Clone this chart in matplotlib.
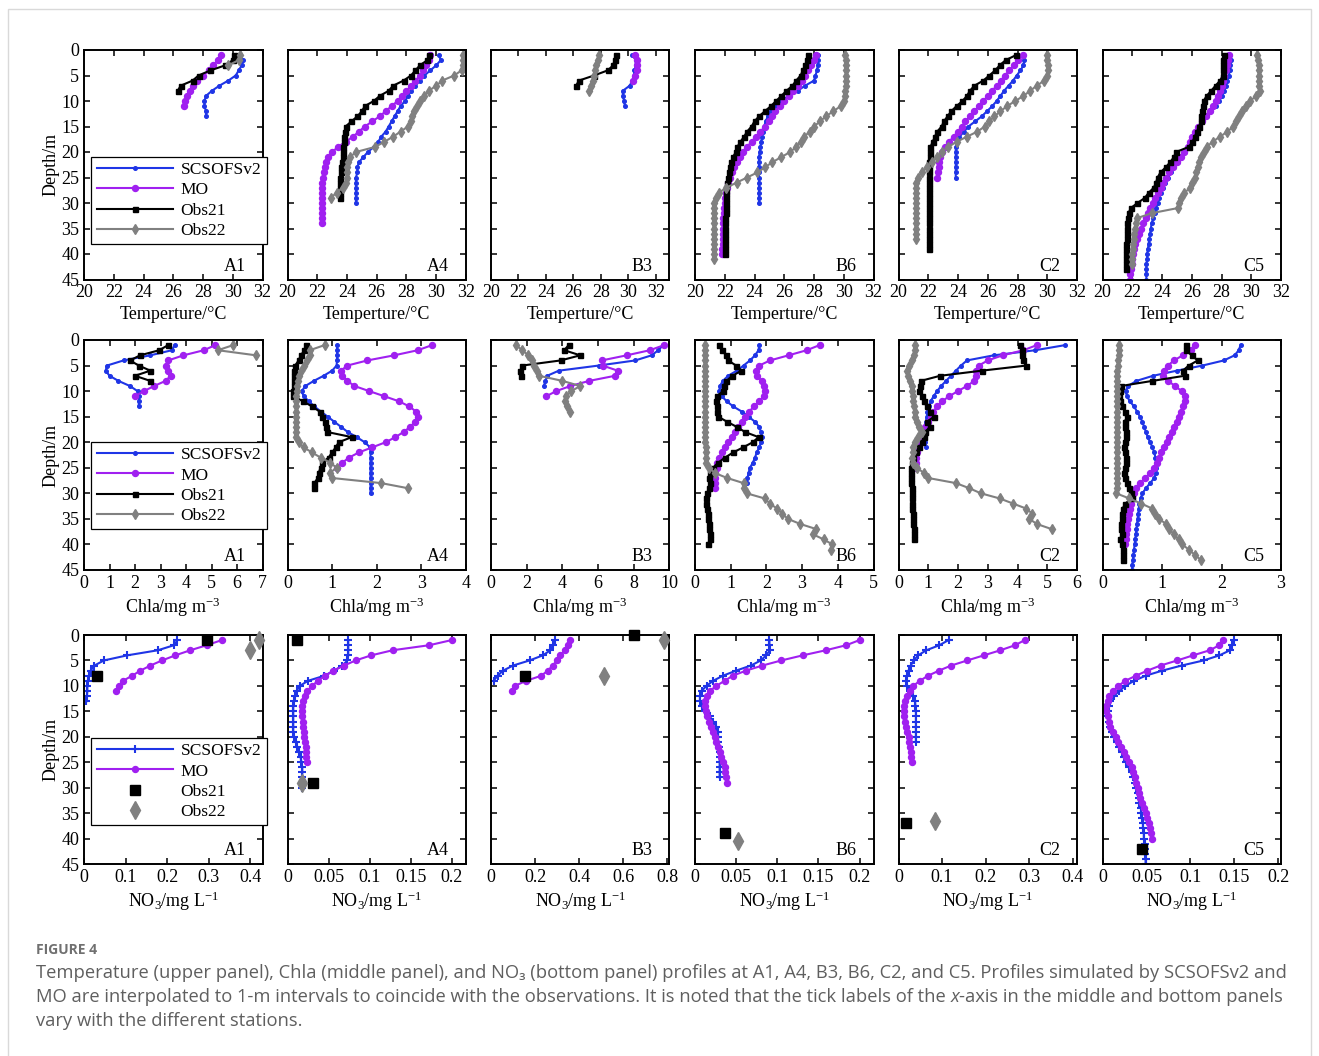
import numpy as np
import matplotlib
matplotlib.use("Agg")
import matplotlib.pyplot as plt
from matplotlib.lines import Line2D
from matplotlib.patches import Rectangle
from matplotlib.ticker import FuncFormatter

# ------------------------------------------------------------------ data
STATIONS = ["A1", "A4", "B3", "B6", "C2", "C5"]
DEPTH_TICKS = [0, 5, 10, 15, 20, 25, 30, 35, 40, 45]
# profile values at 1-m intervals starting at 1 m depth

# ---- Temperature (deg C)
T_SCS = {
    "A1": [30.5, 30.7, 30.6, 30.4, 30.2, 29.7, 29.1, 28.6, 28.2, 28.1, 28.1, 28.2, 28.2],
    "A4": [30.2, 30.3, 30.0, 29.6, 29.2, 28.9, 28.6, 28.3, 28.1, 27.9, 27.6, 27.4, 27.2, 27.0, 26.8,
           26.6, 26.3, 26.1, 25.8, 25.4, 25.1, 24.8, 24.7, 24.7, 24.6, 24.6, 24.6, 24.6, 24.6, 24.6],
    "B3": [30.3, 30.55, 30.55, 30.45, 30.4, 30.3, 30.1, 29.6, 29.6, 29.7, 29.75],
    "B6": [28.25, 28.25, 28.25, 28.2, 28.1, 28.0, 27.4, 26.9, 26.3, 25.8, 25.4, 25.1, 24.9, 24.75, 24.65,
           24.55, 24.5, 24.45, 24.4, 24.35, 24.3, 24.3, 24.3, 24.3, 24.3, 24.3, 24.3, 24.3, 24.3, 24.3],
    "C2": [28.4, 28.45, 28.4, 28.2, 27.95, 27.7, 27.4, 27.1, 26.85, 26.6, 26.3, 25.95, 25.6, 25.15, 24.7,
           24.4, 24.1, 23.95, 23.85, 23.85, 23.85, 23.85, 23.85, 23.85, 23.85],
    "C5": [28.6, 28.65, 28.6, 28.55, 28.5, 28.4, 28.3, 28.2, 28.05, 27.85, 27.6, 27.3, 27.0, 26.75, 26.5,
           26.3, 26.1, 25.95, 25.8, 25.55, 25.3, 25.05, 24.8, 24.6, 24.4, 24.2, 24.05, 23.9, 23.8, 23.7,
           23.6, 23.5, 23.4, 23.3, 23.25, 23.2, 23.15, 23.1, 23.05, 23.0, 23.0, 22.95, 22.95, 22.95, 22.95],
}
T_MO = {
    "A1": [29.2, 29.0, 28.7, 28.4, 28.0, 27.6, 27.3, 27.1, 26.9, 26.8, 26.7],
    "A4": [29.6, 29.5, 29.3, 29.1, 28.9, 28.6, 28.3, 28.0, 27.7, 27.4, 27.0, 26.6, 26.2, 25.7, 25.2,
           24.8, 24.4, 23.9, 23.4, 23.0, 22.7, 22.6, 22.5, 22.45, 22.4, 22.35, 22.35, 22.35, 22.35, 22.35,
           22.35, 22.35, 22.35, 22.35],
    "B3": [30.5, 30.6, 30.65, 30.6, 30.5, 30.35],
    "B6": [28.15, 28.0, 27.8, 27.6, 27.4, 27.2, 26.9, 26.6, 26.3, 26.0, 25.7, 25.4, 25.2, 24.95, 24.7,
           24.4, 24.1, 23.8, 23.5, 23.2, 23.0, 22.8, 22.65, 22.5, 22.35, 22.25, 22.15, 22.1, 22.05, 22.0,
           21.95, 21.95, 21.9, 21.9, 21.9, 21.85, 21.85, 21.85, 21.8, 21.8],
    "C2": [28.35, 28.05, 27.75, 27.45, 27.15, 26.9, 26.6, 26.3, 26.0, 25.7, 25.4, 25.1, 24.8, 24.5, 24.25,
           24.0, 23.7, 23.4, 23.15, 22.95, 22.8, 22.75, 22.7, 22.65, 22.6],
    "C5": [28.5, 28.45, 28.4, 28.3, 28.2, 28.1, 28.0, 27.9, 27.75, 27.6, 27.45, 27.25, 26.95, 26.7, 26.45,
           26.25, 26.05, 25.9, 25.75, 25.5, 25.25, 25.0, 24.75, 24.5, 24.3, 24.1, 23.9, 23.7, 23.55, 23.4,
           23.2, 23.05, 22.9, 22.75, 22.6, 22.45, 22.35, 22.2, 22.1, 22.05, 22.0, 21.95, 21.9, 21.85, 21.85],
}
T_OBS21 = {
    "A1": [30.1, 30.0, 29.5, 28.5, 27.7, 27.3, 26.5, 26.3],
    "A4": [29.5, 29.4, 28.9, 28.6, 28.3, 27.8, 27.1, 26.8, 26.2, 25.8, 25.2, 25.0, 24.7, 24.3, 23.9,
           23.85, 23.8, 23.8, 23.75, 23.7, 23.7, 23.65, 23.6, 23.6, 23.55, 23.55, 23.5, 23.5, 23.5],
    "B3": [29.1, 29.0, 28.9, 28.5, 27.5, 26.4, 26.2],
    "B6": [27.6, 27.55, 27.4, 27.25, 27.1, 26.8, 26.55, 26.15, 25.8, 25.45, 25.1, 24.7, 24.3, 24.0, 23.8,
           23.5, 23.3, 23.05, 22.85, 22.75, 22.55, 22.45, 22.35, 22.3, 22.2, 22.15, 22.1, 22.1, 22.1, 22.1,
           22.1, 22.1, 22.05, 22.05, 22.05, 22.05, 22.05, 22.05, 22.05, 22.05],
    "C2": [27.9, 27.2, 26.8, 26.5, 26.1, 25.7, 25.1, 24.8, 24.6, 24.3, 23.9, 23.55, 23.3, 23.05, 22.9,
           22.6, 22.45, 22.3, 22.15, 22.1, 22.1, 22.05, 22.05, 22.05, 22.05, 22.05, 22.05, 22.05, 22.05, 22.05,
           22.05, 22.05, 22.05, 22.05, 22.05, 22.05, 22.05, 22.05, 22.05],
    "C5": [28.15, 28.1, 28.1, 28.1, 28.1, 27.9, 27.6, 27.3, 27.0, 26.8, 26.75, 26.7, 26.65, 26.6, 26.5,
           26.35, 26.2, 26.05, 25.8, 24.95, 24.8, 24.55, 24.25, 23.9, 23.7, 23.6, 23.45, 23.1, 22.85, 22.35,
           21.9, 21.75, 21.7, 21.65, 21.65, 21.65, 21.65, 21.6, 21.6, 21.6, 21.6, 21.6, 21.6],
}
T_OBS22 = {
    "A1": [30.5, 30.4, 29.7],
    "A4": [31.8, 31.8, 31.8, 31.7, 31.2, 30.4, 30.0, 29.5, 29.2, 28.9, 28.7, 28.5, 28.4, 28.3, 28.1,
           27.6, 27.1, 26.5, 25.9, 24.6, 24.2, 24.1, 24.0, 24.0, 24.0, 23.9, 23.7, 23.3, 22.9],
    "B3": [27.9, 27.8, 27.65, 27.6, 27.5, 27.4, 27.3, 27.15],
    "B6": [30.1, 30.15, 30.15, 30.15, 30.15, 30.15, 30.15, 30.1, 30.1, 30.0, 29.8, 29.3, 28.8, 28.4, 28.0,
           27.7, 27.35, 27.1, 26.8, 26.4, 25.8, 25.2, 24.7, 24.2, 23.5, 22.8, 22.1, 21.6, 21.4, 21.3,
           21.25, 21.25, 21.25, 21.25, 21.25, 21.25, 21.25, 21.25, 21.25, 21.25, 21.3],
    "C2": [30.0, 30.0, 30.05, 30.05, 30.0, 29.8, 29.3, 28.85, 28.4, 27.85, 27.3, 26.85, 26.45, 26.1, 25.8,
           25.3, 24.6, 23.9, 23.35, 22.9, 22.6, 22.25, 21.9, 21.55, 21.3, 21.2, 21.15, 21.15, 21.15, 21.15,
           21.15, 21.15, 21.15, 21.15, 21.15, 21.15, 21.15],
    "C5": [30.4, 30.45, 30.5, 30.5, 30.5, 30.55, 30.55, 30.6, 30.35, 29.9, 29.65, 29.4, 29.2, 29.0, 28.8,
           28.4, 27.9, 27.4, 27.0, 26.8, 26.65, 26.5, 26.4, 26.3, 26.2, 26.05, 25.9, 25.5, 25.3, 25.15,
           25.05, 23.3, 22.3, 22.25, 22.2, 22.15, 22.1, 22.05, 22.05, 22.0, 22.0, 22.0],
}

# ---- Chla (mg m-3)
C_SCS = {
    "A1": [3.55, 3.45, 2.6, 1.55, 0.9, 0.85, 1.0, 1.35, 1.8, 2.1, 2.15, 2.15, 2.15],
    "A4": [1.11, 1.11, 1.11, 1.11, 1.1, 1.0, 0.81, 0.59, 0.4, 0.32, 0.36, 0.48, 0.6, 0.75, 0.9,
           1.05, 1.2, 1.35, 1.55, 1.73, 1.85, 1.86, 1.86, 1.86, 1.86, 1.86, 1.86, 1.86, 1.86, 1.86],
    "B3": [9.65, 9.37, 9.0, 8.08, 6.03, 3.8, 3.15, 3.05, 2.96],
    "B6": [1.8, 1.78, 1.68, 1.54, 1.36, 1.17, 0.93, 0.78, 0.7, 0.68, 0.75, 0.89, 1.07, 1.31, 1.5,
           1.68, 1.8, 1.85, 1.87, 1.85, 1.8, 1.73, 1.68, 1.62, 1.54, 1.5, 1.47, 1.45],
    "C2": [5.6, 4.6, 3.2, 2.3, 2.1, 1.93, 1.76, 1.6, 1.43, 1.3, 1.18, 1.08, 1.02, 0.97, 0.95,
           0.92, 0.9, 0.88, 0.9, 0.9, 0.93],
    "C5": [2.32, 2.29, 2.22, 2.04, 1.68, 1.25, 0.85, 0.57, 0.43, 0.39, 0.41, 0.46, 0.53, 0.58, 0.63,
           0.67, 0.7, 0.73, 0.76, 0.8, 0.84, 0.87, 0.89, 0.9, 0.9, 0.9, 0.87, 0.8, 0.73, 0.67,
           0.64, 0.62, 0.61, 0.6, 0.59, 0.58, 0.57, 0.56, 0.55, 0.54, 0.53, 0.52, 0.51, 0.5, 0.5],
}
C_MO = {
    "A1": [5.15, 4.7, 3.9, 3.3, 3.2, 3.3, 3.4, 3.2, 2.75, 2.35, 2.0],
    "A4": [3.24, 2.92, 2.39, 1.79, 1.34, 1.2, 1.23, 1.34, 1.5, 1.83, 2.17, 2.5, 2.73, 2.88, 2.92,
           2.86, 2.75, 2.6, 2.42, 2.2, 1.9, 1.6, 1.38, 1.23, 1.11],
    "B3": [9.7, 8.9, 7.6, 6.2, 6.25, 7.1, 6.95, 5.5, 4.45, 3.65, 3.1],
    "B6": [3.49, 3.13, 2.62, 2.1, 1.8, 1.71, 1.73, 1.87, 1.93, 1.96, 1.92, 1.8, 1.65, 1.52, 1.4,
           1.31, 1.21, 1.12, 1.03, 0.93, 0.84, 0.75, 0.68, 0.63, 0.61, 0.56, 0.55, 0.55, 0.56],
    "C2": [4.65, 4.2, 3.5, 3.0, 2.7, 2.6, 2.6, 2.55, 2.3, 2.0, 1.7, 1.47, 1.3, 1.17, 1.08,
           1.0, 0.9, 0.85, 0.8, 0.74, 0.68, 0.63, 0.6, 0.6, 0.6],
    "C5": [1.55, 1.48, 1.35, 1.2, 1.1, 1.03, 1.02, 1.1, 1.22, 1.33, 1.39, 1.38, 1.35, 1.32, 1.28,
           1.25, 1.21, 1.16, 1.12, 1.08, 1.04, 0.99, 0.95, 0.91, 0.87, 0.8, 0.72, 0.63, 0.57, 0.53,
           0.5, 0.48, 0.46, 0.45, 0.43, 0.42, 0.41, 0.4, 0.39, 0.38],
}
C_OBS21 = {
    "A1": [3.3, 2.95, 2.2, 1.8, 2.15, 2.6, 2.0, 2.6],
    "A4": [0.42, 0.38, 0.3, 0.25, 0.17, 0.15, 0.14, 0.15, 0.14, 0.12, 0.13, 0.35, 0.55, 0.72, 0.77,
           0.83, 0.86, 0.89, 1.44, 1.15, 1.08, 1.0, 0.92, 0.78, 0.74, 0.7, 0.68, 0.6, 0.59],
    "B3": [4.35, 4.1, 5.0, 3.9, 1.75, 1.65, 1.7],
    "B6": [0.68, 0.75, 0.88, 0.93, 1.15, 1.3, 1.05, 0.88, 0.8, 0.78, 0.62, 0.6, 0.62, 0.63, 0.65,
           0.9, 1.17, 1.4, 1.78, 1.62, 1.35, 1.07, 0.84, 0.65, 0.5, 0.42, 0.4, 0.42, 0.4, 0.33,
           0.3, 0.32, 0.34, 0.36, 0.37, 0.39, 0.4, 0.41, 0.42, 0.36],
    "C2": [4.1, 4.15, 4.15, 4.2, 4.3, 2.8, 1.4, 0.75, 0.72, 0.68, 0.8, 0.85, 0.95, 1.05, 1.2,
           0.95, 1.05, 0.9, 0.85, 0.8, 0.7, 0.6, 0.5, 0.45, 0.42, 0.42, 0.42, 0.43, 0.44, 0.45,
           0.45, 0.46, 0.47, 0.48, 0.5, 0.5, 0.52, 0.53, 0.53],
    "C5": [1.4, 1.4, 1.5, 1.6, 1.45, 1.35, 1.38, 0.84, 0.31, 0.29, 0.28, 0.3, 0.33, 0.38, 0.42,
           0.37, 0.38, 0.4, 0.4, 0.38, 0.36, 0.38, 0.4, 0.4, 0.37, 0.36, 0.38, 0.42, 0.45, 0.48,
           0.5, 0.38, 0.34, 0.33, 0.32, 0.31, 0.31, 0.32, 0.3, 0.33, 0.34, 0.34, 0.34],
}
C_OBS22 = {
    "A1": [5.85, 5.25, 6.75],
    "A4": [0.83, 0.5, 0.5, 0.44, 0.36, 0.3, 0.25, 0.23, 0.21, 0.21, 0.2, 0.2, 0.2, 0.2, 0.2,
           0.2, 0.2, 0.2, 0.2, 0.25, 0.36, 0.55, 0.74, 0.96, 1.1, 0.95, 1.0, 2.1, 2.7],
    "B3": [1.4, 1.75, 2.1, 2.3, 2.4, 2.55, 2.7, 4.0, 5.0, 4.5, 4.2, 4.15, 4.25, 4.4],
    "B6": [0.28, 0.28, 0.28, 0.27, 0.27, 0.27, 0.27, 0.27, 0.27, 0.27, 0.27, 0.27, 0.28, 0.28, 0.28,
           0.28, 0.28, 0.29, 0.29, 0.29, 0.3, 0.3, 0.31, 0.32, 0.4, 0.55, 0.9, 1.36, 1.38, 1.45,
           1.95, 2.1, 2.3, 2.45, 2.6, 2.95, 3.4, 3.3, 3.6, 3.85, 3.82],
    "C2": [0.57, 0.57, 0.52, 0.45, 0.35, 0.3, 0.33, 0.4, 0.45, 0.46, 0.48, 0.5, 0.52, 0.55, 0.57,
           0.62, 0.68, 0.78, 0.65, 0.55, 0.5, 0.48, 0.45, 0.5, 0.62, 0.85, 1.0, 1.93, 2.38, 2.77,
           3.4, 3.85, 4.3, 4.5, 4.4, 4.65, 5.15],
    "C5": [0.27, 0.27, 0.27, 0.26, 0.26, 0.25, 0.25, 0.25, 0.25, 0.24, 0.24, 0.24, 0.24, 0.24, 0.24,
           0.24, 0.24, 0.24, 0.24, 0.24, 0.24, 0.24, 0.24, 0.24, 0.24, 0.24, 0.24, 0.24, 0.24, 0.23,
           0.45, 0.65, 0.84, 0.88, 0.95, 1.07, 1.12, 1.2, 1.28, 1.34, 1.45, 1.55, 1.65],
}

# ---- NO3 (mg L-1)
N_SCS = {
    "A1": [0.225, 0.217, 0.178, 0.104, 0.048, 0.025, 0.016, 0.012, 0.009, 0.008, 0.008, 0.007, 0.006],
    "A4": [0.074, 0.074, 0.074, 0.074, 0.073, 0.067, 0.057, 0.045, 0.025, 0.015, 0.011, 0.009, 0.008,
           0.007, 0.007, 0.007, 0.007, 0.007, 0.007, 0.008, 0.01, 0.012, 0.014, 0.016, 0.017, 0.018,
           0.018, 0.018, 0.018, 0.018],
    "B3": [0.29, 0.28, 0.27, 0.235, 0.175, 0.1, 0.055, 0.03, 0.012],
    "B6": [0.0905, 0.0905, 0.091, 0.0865, 0.08, 0.068, 0.05, 0.034, 0.022, 0.014, 0.008, 0.006, 0.006,
           0.008, 0.012, 0.018, 0.022, 0.026, 0.028, 0.028, 0.028, 0.029, 0.03, 0.03, 0.03, 0.03,
           0.03, 0.03],
    "C2": [0.115, 0.094, 0.064, 0.045, 0.035, 0.028, 0.023, 0.019, 0.018, 0.02, 0.026, 0.033, 0.038,
           0.039, 0.04, 0.04, 0.04, 0.04, 0.04, 0.04, 0.04],
    "C5": [0.15, 0.147, 0.145, 0.133, 0.115, 0.09, 0.068, 0.049, 0.036, 0.026, 0.019, 0.013, 0.009,
           0.0075, 0.006, 0.006, 0.007, 0.008, 0.011, 0.013, 0.016, 0.019, 0.022, 0.024, 0.027,
           0.03, 0.033, 0.035, 0.037, 0.038, 0.04, 0.041, 0.042, 0.044, 0.044, 0.045, 0.046,
           0.046, 0.047, 0.047, 0.048, 0.048, 0.048, 0.049, 0.049],
}
N_MO = {
    "A1": [0.332, 0.296, 0.256, 0.22, 0.188, 0.16, 0.136, 0.116, 0.094, 0.085, 0.076],
    "A4": [0.2, 0.173, 0.128, 0.102, 0.083, 0.069, 0.056, 0.046, 0.037, 0.03, 0.024, 0.021, 0.019,
           0.018, 0.018, 0.018, 0.019, 0.019, 0.02, 0.02, 0.021, 0.022, 0.022, 0.023, 0.024],
    "B3": [0.358, 0.35, 0.335, 0.315, 0.3, 0.28, 0.258, 0.228, 0.16, 0.108, 0.095],
    "B6": [0.2, 0.184, 0.159, 0.131, 0.105, 0.082, 0.062, 0.046, 0.036, 0.026, 0.018, 0.014, 0.012,
           0.012, 0.013, 0.015, 0.017, 0.019, 0.022, 0.024, 0.026, 0.028, 0.03, 0.032, 0.034,
           0.036, 0.037, 0.038, 0.039],
    "C2": [0.29, 0.268, 0.234, 0.196, 0.158, 0.121, 0.093, 0.068, 0.049, 0.034, 0.026, 0.02, 0.015,
           0.013, 0.013, 0.013, 0.015, 0.017, 0.019, 0.023, 0.025, 0.026, 0.028, 0.029, 0.03],
    "C5": [0.137, 0.133, 0.122, 0.103, 0.085, 0.066, 0.051, 0.038, 0.026, 0.018, 0.012, 0.0075,
           0.006, 0.0045, 0.0045, 0.006, 0.0075, 0.009, 0.012, 0.015, 0.018, 0.021, 0.024, 0.027,
           0.03, 0.033, 0.035, 0.037, 0.038, 0.04, 0.041, 0.043, 0.045, 0.047, 0.049, 0.051,
           0.053, 0.054, 0.055, 0.056],
}
N_OBS21_DEPTH = {"A1": [1, 8], "A4": [1, 29], "B3": [0, 8], "B6": [39], "C2": [37], "C5": [42]}
N_OBS21_VAL = {"A1": [0.296, 0.032], "A4": [0.012, 0.031], "B3": [0.65, 0.156],
               "B6": [0.036], "C2": [0.017], "C5": [0.045]}
N_OBS22_DEPTH = {"A1": [1, 3], "A4": [29], "B3": [1, 8], "B6": [40.5], "C2": [36.6], "C5": []}
N_OBS22_VAL = {"A1": [0.422, 0.4], "A4": [0.018], "B3": [0.785, 0.513],
               "B6": [0.052], "C2": [0.083], "C5": []}

# axis ranges / tick labels per panel
T_XLIM = {"A1": (20, 32), "A4": (20, 32), "B3": (20, 33), "B6": (20, 32), "C2": (20, 32), "C5": (20, 32)}
T_TICKS = [20, 22, 24, 26, 28, 30, 32]
C_XLIM = {"A1": (0, 7), "A4": (0, 4), "B3": (0, 10), "B6": (0, 5), "C2": (0, 6), "C5": (0, 3)}
C_TICKS = {"A1": [0, 1, 2, 3, 4, 5, 6, 7], "A4": [0, 1, 2, 3, 4], "B3": [0, 2, 4, 6, 8, 10],
           "B6": [0, 1, 2, 3, 4, 5], "C2": [0, 1, 2, 3, 4, 5, 6], "C5": [0, 1, 2, 3]}
N_XLIM = {"A1": (0, 0.43), "A4": (0, 0.2175), "B3": (0, 0.81), "B6": (0, 0.217), "C2": (0, 0.41),
          "C5": (0, 0.203)}
N_TICKS = {"A1": [0, 0.1, 0.2, 0.3, 0.4], "A4": [0, 0.05, 0.1, 0.15, 0.2], "B3": [0, 0.2, 0.4, 0.6, 0.8],
           "B6": [0, 0.05, 0.1, 0.15, 0.2], "C2": [0, 0.1, 0.2, 0.3, 0.4], "C5": [0, 0.05, 0.1, 0.15, 0.2]}

SERIES = ["SCSOFSv2", "MO", "Obs21", "Obs22"]
XLABELS = ["Temperture/\u00b0C", "Chla/mg m$^{-3}$", "NO$_3$/mg L$^{-1}$"]

# ------------------------------------------------------------------ style
plt.rcParams['font.family'] = ['Liberation Serif', 'DejaVu Serif']
plt.rcParams['mathtext.fontset'] = 'custom'
plt.rcParams['mathtext.rm'] = 'Liberation Serif'
plt.rcParams['mathtext.it'] = 'Liberation Serif:italic'
plt.rcParams['mathtext.bf'] = 'Liberation Serif:bold'

BLUE = '#1f35e6'
PURPLE = '#a020f0'
GRAY = '#808080'
BLACK = '#000000'
LW = 1.5
FS = 13

W, H = 1319, 1056
fig = plt.figure(figsize=(W / 100, H / 100), dpi=100)

LEFTS = [84, 287.5, 491, 695, 898.5, 1102.5]
AX_W = 178.5
ROWS = [(50, 279.5), (340, 570), (635, 864)]
LEG_TOP = [0.535, 0.557, 0.551]

fmt = FuncFormatter(lambda v, p: f"{v:g}")


def make_ax(r, c):
    top, bot = ROWS[r]
    ax = fig.add_axes([LEFTS[c] / W, 1 - bot / H, AX_W / W, (bot - top) / H])
    ax.set_ylim(45, 0)
    ax.set_yticks(DEPTH_TICKS)
    ax.tick_params(direction='in', top=True, right=True, length=4, width=1.1,
                   labelsize=FS, pad=3.5)
    for s in ax.spines.values():
        s.set_linewidth(1.4)
    if c == 0:
        ax.set_ylabel("Depth/m", fontsize=FS, labelpad=1)
    else:
        ax.set_yticklabels([])
    ax.set_xlabel(XLABELS[r], fontsize=FS, labelpad=3)
    ax.text(0.905, 0.02, STATIONS[c], transform=ax.transAxes, ha='right', va='bottom',
            fontsize=FS)
    ax.xaxis.set_major_formatter(fmt)
    return ax


def profile(ax, vals, **kw):
    d = np.arange(1, len(vals) + 1)
    ax.plot(vals, d, **kw)


STY = [
    dict(color=BLUE, lw=LW, marker='o', ms=2.6, mec=BLUE, mfc=BLUE),
    dict(color=PURPLE, lw=LW, marker='o', ms=4.3, mec=PURPLE, mfc=PURPLE),
    dict(color=BLACK, lw=LW, marker='s', ms=3.6, mec=BLACK, mfc=BLACK),
    dict(color=GRAY, lw=LW, marker='d', ms=4.6, mec=GRAY, mfc=GRAY),
]
STY3 = [
    dict(color=BLUE, lw=LW, marker='+', ms=5.5, mew=1.5),
    dict(color=PURPLE, lw=LW, marker='o', ms=4.3, mec=PURPLE, mfc=PURPLE),
    dict(color=BLACK, lw=0, ls='none', marker='s', ms=7, mec=BLACK, mfc=BLACK),
    dict(color=GRAY, lw=0, ls='none', marker='d', ms=9, mec=GRAY, mfc=GRAY),
]


def add_legend(ax, styles, r):
    handles = [Line2D([], [], **st) for st in styles]
    leg = ax.legend(handles, SERIES, loc='upper left', bbox_to_anchor=(0.041, LEG_TOP[r]),
                    borderaxespad=0, fancybox=False, edgecolor='black', framealpha=1,
                    handlelength=4.4, handletextpad=0.45, borderpad=0.3, labelspacing=0.24,
                    fontsize=12.5, numpoints=1)
    leg.get_frame().set_linewidth(0.9)


for c, st in enumerate(STATIONS):
    # temperature
    ax = make_ax(0, c)
    for data, sty in zip([T_SCS, T_MO, T_OBS21, T_OBS22], STY):
        profile(ax, data[st], **sty)
    ax.set_xlim(*T_XLIM[st])
    ax.set_xticks(T_TICKS)
    if c == 0:
        add_legend(ax, STY, 0)

    # chla
    ax = make_ax(1, c)
    for data, sty in zip([C_SCS, C_MO, C_OBS21, C_OBS22], STY):
        profile(ax, data[st], **sty)
    ax.set_xlim(*C_XLIM[st])
    ax.set_xticks(C_TICKS[st])
    if c == 0:
        add_legend(ax, STY, 1)

    # NO3
    ax = make_ax(2, c)
    profile(ax, N_SCS[st], **STY3[0])
    profile(ax, N_MO[st], **STY3[1])
    ax.plot(N_OBS21_VAL[st], N_OBS21_DEPTH[st], clip_on=False, zorder=5, **STY3[2])
    ax.plot(N_OBS22_VAL[st], N_OBS22_DEPTH[st], clip_on=False, zorder=5, **STY3[3])
    ax.set_xlim(*N_XLIM[st])
    ax.set_xticks(N_TICKS[st])
    if c == 0:
        add_legend(ax, STY3, 2)

# ------------------------------------------------------------------ caption
CAP_FONT = ['Open Sans', 'Noto Sans', 'DejaVu Sans']
CAP_COLOR = '#5f5f5f'
fig.add_artist(Rectangle((8 / W, -0.02), (1311 - 8) / W, 1.02 - 9 / H, transform=fig.transFigure,
                         fill=False, edgecolor='#d9d9d9', lw=1.0))
fig.text(36 / W, 1 - 950 / H, "FIGURE 4", fontsize=10, fontweight='bold', color='#707070',
         family=CAP_FONT, va='center', ha='left')

line1 = ("Temperature (upper panel), Chla (middle panel), and NO\u2083 (bottom panel) profiles at A1, "
         "A4, B3, B6, C2, and C5. Profiles simulated by SCSOFSv2 and")
line2a = ("MO are interpolated to 1-m intervals to coincide with the observations. It is noted that "
          "the tick labels of the ")
line2x = "x"
line2b = "-axis in the middle and bottom panels"
line3 = "vary with the different stations."

renderer = fig.canvas.get_renderer()
t1 = fig.text(36 / W, 1 - 973 / H, line1, fontsize=12, color=CAP_COLOR, family=CAP_FONT,
              va='center', ha='left')
w1 = t1.get_window_extent(renderer).width
fs = 12 * (1247 / w1)
t1.set_fontsize(fs)

y2 = 1 - 997 / H
ta = fig.text(36 / W, y2, line2a, fontsize=fs, color=CAP_COLOR, family=CAP_FONT, va='center', ha='left')
xa = 36 + ta.get_window_extent(renderer).width
tx = fig.text(xa / W, y2, line2x, fontsize=fs, color=CAP_COLOR, family=CAP_FONT, style='italic',
              va='center', ha='left')
xb = xa + tx.get_window_extent(renderer).width
fig.text(xb / W, y2, line2b, fontsize=fs, color=CAP_COLOR, family=CAP_FONT, va='center', ha='left')
fig.text(36 / W, 1 - 1021 / H, line3, fontsize=fs, color=CAP_COLOR, family=CAP_FONT,
         va='center', ha='left')

fig.savefig("out.png", dpi=100)
